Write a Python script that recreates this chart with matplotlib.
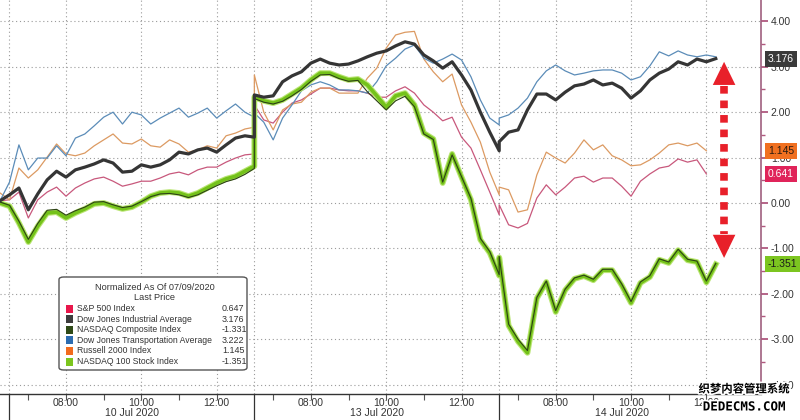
import numpy as np
import matplotlib.pyplot as plt
import matplotlib.transforms as mtransforms
import matplotlib.patheffects as pe
from matplotlib.patches import FancyBboxPatch, Rectangle, Polygon

plt.rcParams['font.family'] = ['Liberation Sans', 'DejaVu Sans']

# x axis: session hours, 06:30 of 10 Jul = 0, 15 minute steps, sessions joined end to end
t1 = np.arange(-0.25, 6.51, 0.25)
t2 = np.arange(6.5, 13.01, 0.25)
t3 = np.arange(13.0, 18.76, 0.25)
t = np.concatenate([t1, t2, t3])

day_starts = [0.0, 6.5, 13.0]
day_labels = ['10 Jul 2020', '13 Jul 2020', '14 Jul 2020']
hour_labels = ['08:00', '10:00', '12:00']
hour_pos = [1.5, 3.5, 5.5]

# normalized % change since 07/09/2020
spx = [0.05, 0.07, 0.24, -0.33, 0.07, 0.24, 0.35, 0.15, 0.33, 0.44, 0.53, 0.57, 0.48, 0.37,
       0.42, 0.48, 0.48, 0.55, 0.64, 0.68, 0.62, 0.73, 0.79, 0.79, 0.90, 0.99, 1.06, 1.08,
       2.16, 1.83, 1.76, 2.00, 2.20, 2.27, 2.40, 2.53, 2.53, 2.49, 2.47, 2.47, 2.42, 2.33,
       2.33, 2.47, 2.56, 2.42, 2.16, 2.00, 1.81, 1.89, 1.45, 1.21, 0.73, 0.24, -0.26,
       -0.04, -0.48, -0.55, -0.45, 0.11, 0.40, 0.18, 0.35, 0.55, 0.59, 0.46, 0.55, 0.55,
       0.37, 0.15, 0.48, 0.64, 0.77, 0.81, 0.97, 0.90, 0.95, 0.64]
rty = [0.22, 0.07, 0.77, 0.55, 0.73, 1.01, 1.30, 1.08, 1.04, 1.10, 1.26, 1.39, 1.52, 1.32,
       1.30, 1.41, 1.26, 1.23, 1.39, 1.30, 1.12, 1.17, 1.26, 1.21, 1.48, 1.54, 1.63, 1.67,
       2.82, 2.00, 1.61, 2.05, 2.18, 2.22, 2.44, 2.53, 2.53, 2.42, 2.42, 2.42, 2.75, 2.97,
       3.41, 3.70, 3.76, 3.78, 3.17, 2.89, 2.67, 2.84, 2.16, 1.78, 1.34, 0.68, 0.18,
       0.35, 0.29, -0.20, -0.15, 0.62, 1.12, 0.99, 0.88, 1.10, 1.39, 1.17, 1.28, 1.04,
       0.95, 0.82, 0.84, 0.95, 1.10, 1.28, 1.32, 1.26, 1.32, 1.15]
tran = [0.05, 0.46, 1.28, 0.73, 0.99, 0.99, 1.26, 1.04, 1.43, 1.52, 1.70, 1.89, 2.00, 1.74,
        2.00, 1.94, 1.74, 1.87, 1.98, 2.09, 1.89, 1.98, 2.09, 1.87, 2.03, 2.18, 2.00, 1.89,
        1.98, 1.78, 1.39, 1.87, 2.16, 2.47, 2.60, 2.67, 2.60, 2.49, 2.49, 2.47, 2.42, 2.67,
        3.02, 3.19, 3.39, 3.48, 3.19, 3.08, 3.17, 3.28, 3.15, 2.78, 2.27, 1.87, 1.72,
        1.87, 1.94, 2.09, 2.31, 2.67, 2.91, 3.04, 2.91, 2.82, 2.86, 2.91, 2.93, 2.93,
        2.86, 2.71, 2.78, 3.02, 3.33, 3.24, 3.35, 3.26, 3.22, 3.26, 3.22]
indu = [0.05, 0.18, 0.33, -0.15, 0.20, 0.51, 0.70, 0.57, 0.73, 0.79, 0.86, 0.95, 0.88, 0.68,
        0.70, 0.84, 0.79, 0.84, 0.95, 1.12, 1.08, 1.17, 1.21, 1.12, 1.28, 1.43, 1.48, 1.45,
        2.38, 2.33, 2.36, 2.67, 2.80, 2.89, 3.08, 3.17, 3.08, 3.04, 3.06, 3.13, 3.22, 3.30,
        3.35, 3.46, 3.55, 3.50, 3.26, 3.13, 2.97, 3.11, 2.82, 2.49, 2.00, 1.56, 1.15,
        1.35, 1.56, 1.61, 2.05, 2.40, 2.40, 2.27, 2.44, 2.58, 2.62, 2.71, 2.60, 2.64,
        2.53, 2.31, 2.47, 2.71, 2.86, 2.95, 3.11, 3.04, 3.17, 3.11, 3.18]
ndx = [0.00, -0.07, -0.44, -0.86, -0.51, -0.22, -0.20, -0.33, -0.22, -0.13, -0.02, 0.00, -0.07, -0.13,
       -0.09, 0.02, 0.15, 0.22, 0.24, 0.22, 0.15, 0.22, 0.33, 0.44, 0.53, 0.59, 0.70, 0.81,
       2.33, 2.25, 2.20, 2.27, 2.40, 2.53, 2.71, 2.86, 2.86, 2.78, 2.71, 2.73, 2.60, 2.36,
       2.11, 2.36, 2.42, 2.16, 1.54, 1.41, 0.44, 1.08, 0.57, 0.07, -0.81, -1.10, -1.60,
       -1.20, -2.70, -3.05, -3.30, -2.10, -1.74, -2.40, -1.92, -1.67, -1.61, -1.70, -1.48, -1.48,
       -1.81, -2.20, -1.76, -1.63, -1.25, -1.32, -1.04, -1.26, -1.30, -1.75, -1.35]
ccmp = [0.02, -0.05, -0.40, -0.80, -0.45, -0.16, -0.14, -0.27, -0.17, -0.09, 0.02, 0.03, -0.04, -0.10,
        -0.07, 0.03, 0.14, 0.20, 0.21, 0.18, 0.12, 0.18, 0.28, 0.38, 0.47, 0.53, 0.63, 0.76,
        2.30, 2.22, 2.18, 2.24, 2.36, 2.50, 2.68, 2.82, 2.83, 2.74, 2.68, 2.70, 2.45, 2.25,
        2.05, 2.25, 2.35, 2.12, 1.52, 1.40, 0.46, 1.06, 0.58, 0.10, -0.78, -1.07, -1.58,
        -1.18, -2.67, -3.00, -3.25, -2.08, -1.72, -2.37, -1.90, -1.65, -1.59, -1.68, -1.46, -1.46,
        -1.78, -2.17, -1.74, -1.60, -1.23, -1.30, -1.02, -1.24, -1.28, -1.72, -1.33]

legend_names = ['S&P 500 Index', 'Dow Jones Industrial Average', 'NASDAQ Composite Index',
                'Dow Jones Transportation Average', 'Russell 2000 Index', 'NASDAQ 100 Stock Index']
legend_vals = ['0.647', '3.176', '-1.331', '3.222', '1.145', '-1.351']
legend_cols = ['#e8174b', '#3d3d3d', '#2f4a17', '#2c6cb0', '#f26b1d', '#7cc51e']

tag_vals = [3.176, 1.145, 0.641, -1.351]
tag_bg = ['#3a3a3a', '#f07020', '#e0245a', '#7cc520']
tag_fg = ['white', '#2a1a10', 'white', '#1a1a1a']

fig = plt.figure(figsize=(8, 4.2), dpi=100)
ax = fig.add_axes([0, 26 / 420, 761 / 800, 394 / 420])
ax.set_xlim(-0.252, 19.95)
ax.set_ylim(-4.207, 4.471)

# grid
grid_kw = dict(color='#9a9a9a', lw=0.8, linestyle=(0, (1, 2.5)), zorder=0)
for y in range(-4, 5):
    ax.axhline(y, **grid_kw)
for d in day_starts:
    ax.axvline(d, **grid_kw)
    for h in hour_pos:
        ax.axvline(d + h, **grid_kw)

ax.plot(t[:len(spx)], spx, color='#c8587c', lw=0.9, zorder=2)
ax.plot(t[:len(rty)], rty, color='#dc9a62', lw=0.9, zorder=2)
ax.plot(t, tran, color='#5b8cb8', lw=0.9, zorder=2)
ax.plot(t, ndx, color='#74c21a', lw=2.6, zorder=3,
        path_effects=[pe.Stroke(linewidth=4.2, foreground='#b9e572'), pe.Normal()])
ax.plot(t, ccmp, color='#2c4016', lw=0.8, zorder=4)
ax.plot(t, indu, color='#353535', lw=2.3, zorder=5)

# axes styling
for s in ['left', 'top']:
    ax.spines[s].set_visible(False)
ax.spines['right'].set_color('#a0607f')
ax.spines['right'].set_linewidth(1.2)
ax.spines['bottom'].set_color('#333333')
ax.spines['bottom'].set_linewidth(1.0)

ax.yaxis.tick_right()
ax.set_yticks(np.arange(-4, 5, 1))
ax.set_yticklabels([f'{v:.2f}' for v in np.arange(-4, 5, 1)])
ax.set_yticks(np.arange(-3.5, 4.5, 1), minor=True)
ax.tick_params(axis='y', which='major', length=5, width=1.3, color='#b0587f',
               labelsize=7.5, labelcolor='#333333', pad=2)
ax.tick_params(axis='y', which='minor', length=3, width=1.0, color='#b0587f')

xt = [d + h for d in day_starts for h in [0.5, 1.5, 2.5, 3.5, 4.5, 5.5]]
ax.set_xticks(xt)
ax.tick_params(axis='x', length=4, width=0.8, color='#555555', labelbottom=False)

blend = mtransforms.blended_transform_factory(ax.transData, ax.transAxes)
for d, dl in zip(day_starts, day_labels):
    for h, hl in zip(hour_pos, hour_labels):
        ax.text(d + h, -8.5 / 394, hl, transform=blend, ha='center', va='center',
                fontsize=7.5, color='#333333', clip_on=False)
    ax.text(d + 3.25, -19.5 / 394, dl, transform=blend, ha='center', va='center',
            fontsize=7.5, color='#333333', clip_on=False)
    ax.plot([d, d], [0, -26 / 394], transform=blend, color='#333333', lw=0.9, clip_on=False)

# last value tags
tblend = mtransforms.blended_transform_factory(ax.transAxes, ax.transData)
for v, bg, fg in zip(tag_vals, tag_bg, tag_fg):
    ax.text(1.0 + 7 / 761, v, f'{v:.3f}', transform=tblend, ha='left', va='center',
            fontsize=7.5, color=fg, zorder=10, clip_on=False,
            bbox=dict(boxstyle='square,pad=0.28', fc=bg, ec='none'))

# red dashed double arrow
red = '#e8202a'
ax_x = 18.97
ax.plot([ax_x, ax_x], [2.58, -0.68], color=red, lw=5.5, dashes=(1.0, 0.9),
        dash_capstyle='butt', zorder=6)
ax.add_patch(Polygon([(ax_x - 0.30, 2.60), (ax_x + 0.30, 2.60), (ax_x, 3.11)],
                     closed=True, fc=red, ec='none', zorder=6))
ax.add_patch(Polygon([(ax_x - 0.30, -0.70), (ax_x + 0.30, -0.70), (ax_x, -1.21)],
                     closed=True, fc=red, ec='none', zorder=6))


def fx(px):
    return px / 800


def fy(py):
    return 1 - py / 420


# legend box
fig.add_artist(FancyBboxPatch((fx(59), fy(370)), fx(247) - fx(59), fy(277) - fy(370),
                              boxstyle='round,pad=0,rounding_size=0.006',
                              transform=fig.transFigure, fc='white', ec='#555555', lw=1.0))
fig.text(fx(155), fy(287), 'Normalized As Of 07/09/2020', ha='center', va='center',
         fontsize=6.6, color='#333333')
fig.text(fx(155), fy(298), 'Last Price', ha='center', va='center', fontsize=6.6, color='#333333')
for i, (nm, val, col) in enumerate(zip(legend_names, legend_vals, legend_cols)):
    yc = 308.5 + i * 10.6
    fig.add_artist(Rectangle((fx(66), fy(yc + 4)), 7 / 800, 8 / 420, fc=col, ec='none',
                             transform=fig.transFigure))
    fig.text(fx(77), fy(yc), nm, ha='left', va='center', fontsize=6.2, color='#333333')
    fig.text(fx(222), fy(yc), val, ha='left', va='center', fontsize=6.4, color='#333333')

# watermark
fig.text(fx(744), fy(389), '织梦内容管理系统', family=['Noto Sans CJK SC'], weight='bold',
         fontsize=8.2, ha='center', va='center', color='black',
         path_effects=[pe.withStroke(linewidth=2.5, foreground='white')])
fig.text(fx(744), fy(407), 'DEDECMS.COM', family=['DejaVu Sans Mono'], weight='bold',
         fontsize=9, ha='center', va='center', color='black',
         path_effects=[pe.withStroke(linewidth=2.5, foreground='white')])

fig.savefig('out.png', dpi=100)
